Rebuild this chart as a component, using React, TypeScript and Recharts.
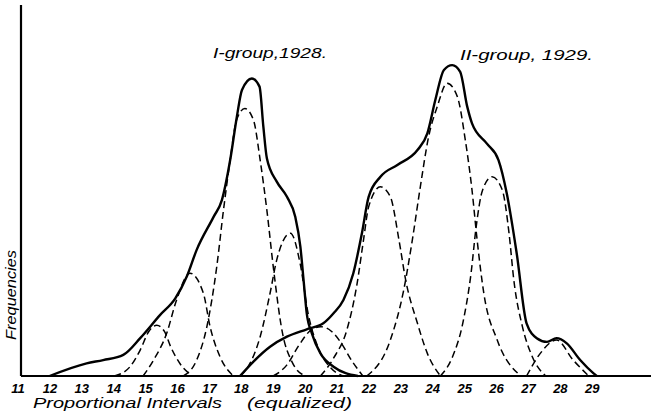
import { LineChart, Line, XAxis, YAxis } from "recharts";

// proportional intervals (equalized) shown under the axis
const intervalTicks = [11, 12, 13, 14, 15, 16, 17, 18, 19, 20, 21, 22, 23, 24, 25, 26, 27, 28, 29];

// solid outline curves, x = interval, y = frequency (arbitrary units, axis top = 100)
const groupOne1928 = [
  { x: 11.99, y: 0 }, { x: 13.15, y: 3.4 }, { x: 13.67, y: 4.3 }, { x: 14.3, y: 5.7 },
  { x: 14.83, y: 10.2 }, { x: 15.45, y: 16.4 }, { x: 15.93, y: 20.9 }, { x: 16.29, y: 26.8 },
  { x: 16.6, y: 34 }, { x: 17.13, y: 42.9 }, { x: 17.39, y: 47.4 }, { x: 17.65, y: 58.2 },
  { x: 17.86, y: 69.9 }, { x: 18.02, y: 77.1 }, { x: 18.33, y: 80.2 }, { x: 18.57, y: 78 },
  { x: 18.69, y: 67.2 }, { x: 18.8, y: 58.7 }, { x: 19.11, y: 52.4 }, { x: 19.43, y: 48.3 },
  { x: 19.69, y: 42.9 }, { x: 19.85, y: 34.9 }, { x: 19.95, y: 25.9 }, { x: 20.05, y: 16.9 },
  { x: 20.21, y: 11.5 }, { x: 20.48, y: 6.1 }, { x: 20.89, y: 2.5 }, { x: 21.65, y: 0 },
];

const groupTwo1929 = [
  { x: 17.96, y: 0 }, { x: 18.38, y: 3.9 }, { x: 18.9, y: 7.9 }, { x: 19.43, y: 10.6 },
  { x: 20.05, y: 12.6 }, { x: 20.57, y: 14.2 }, { x: 20.89, y: 16.9 }, { x: 21.2, y: 20.5 },
  { x: 21.51, y: 27.7 }, { x: 21.78, y: 38.5 }, { x: 21.99, y: 48.3 }, { x: 22.36, y: 53.7 },
  { x: 22.89, y: 56.9 }, { x: 23.52, y: 60.9 }, { x: 23.83, y: 65.4 }, { x: 24.08, y: 74.4 },
  { x: 24.35, y: 82.5 }, { x: 24.61, y: 83.8 }, { x: 24.86, y: 82 }, { x: 25.08, y: 72.6 },
  { x: 25.23, y: 68.1 }, { x: 25.69, y: 62.7 }, { x: 26.06, y: 58.2 }, { x: 26.32, y: 49.2 },
  { x: 26.63, y: 33.1 }, { x: 26.94, y: 14.2 }, { x: 27.26, y: 10.2 }, { x: 27.58, y: 9.2 },
  { x: 27.88, y: 10.2 }, { x: 28.2, y: 8.8 }, { x: 28.62, y: 4.3 }, { x: 29.04, y: 0.7 },
  { x: 29.14, y: 0 },
];

// dashed component curves, group I
const partA = [
  { x: 14.02, y: 0 }, { x: 14.51, y: 2.5 }, { x: 14.83, y: 7 }, { x: 15.1, y: 12 },
  { x: 15.35, y: 13.7 }, { x: 15.59, y: 12 }, { x: 15.79, y: 7.8 }, { x: 16.08, y: 3.3 },
  { x: 16.47, y: 0 },
];
const partB = [
  { x: 14.92, y: 0 }, { x: 15.25, y: 4.3 }, { x: 15.66, y: 11.5 }, { x: 15.97, y: 20.5 },
  { x: 16.39, y: 27.7 }, { x: 16.81, y: 22.3 }, { x: 17.02, y: 13.3 }, { x: 17.33, y: 5.2 },
  { x: 17.75, y: 0 },
];
const partC = [
  { x: 16.18, y: 0 }, { x: 16.6, y: 4.3 }, { x: 16.92, y: 13.3 }, { x: 17.23, y: 29.5 },
  { x: 17.44, y: 44.7 }, { x: 17.65, y: 58.2 }, { x: 17.85, y: 69 }, { x: 18.11, y: 72.1 },
  { x: 18.38, y: 69 }, { x: 18.59, y: 58.2 }, { x: 18.8, y: 44.7 }, { x: 19.0, y: 29.5 },
  { x: 19.28, y: 12 }, { x: 19.6, y: 3.6 }, { x: 20.0, y: 0 },
];
const partD = [
  { x: 17.96, y: 0 }, { x: 18.27, y: 3.4 }, { x: 18.59, y: 10.6 }, { x: 18.9, y: 22.3 },
  { x: 19.11, y: 31.3 }, { x: 19.54, y: 38.5 }, { x: 19.85, y: 30 }, { x: 20.09, y: 17 },
  { x: 20.39, y: 8 }, { x: 20.8, y: 2.2 }, { x: 21.2, y: 0 },
];

// dashed component curves, group II
const partE = [
  { x: 19.0, y: 0 }, { x: 19.43, y: 3 }, { x: 19.82, y: 8.5 }, { x: 20.2, y: 12.5 },
  { x: 20.49, y: 13.3 }, { x: 20.83, y: 12 }, { x: 21.12, y: 9 }, { x: 21.47, y: 4 },
  { x: 21.81, y: 0 },
];
const partF = [
  { x: 20.48, y: 0 }, { x: 20.89, y: 4.8 }, { x: 21.31, y: 12.5 }, { x: 21.62, y: 24.5 },
  { x: 21.83, y: 36.7 }, { x: 21.99, y: 45.6 }, { x: 22.36, y: 51 }, { x: 22.67, y: 48.3 },
  { x: 22.94, y: 36.7 }, { x: 23.15, y: 25.9 }, { x: 23.52, y: 14.2 }, { x: 23.83, y: 6.1 },
  { x: 24.24, y: 0 },
];
const partG = [
  { x: 21.93, y: 0 }, { x: 22.67, y: 9.7 }, { x: 23.09, y: 23.2 }, { x: 23.36, y: 36.7 },
  { x: 23.61, y: 51 }, { x: 23.87, y: 64.5 }, { x: 24.14, y: 72.6 }, { x: 24.45, y: 78.9 },
  { x: 24.77, y: 75.3 }, { x: 25.02, y: 63.6 }, { x: 25.23, y: 50.1 }, { x: 25.39, y: 36.7 },
  { x: 25.6, y: 22.3 }, { x: 26.02, y: 9.7 }, { x: 26.76, y: 0 },
];
const partH = [
  { x: 24.24, y: 0 }, { x: 24.62, y: 5.2 }, { x: 24.94, y: 14.2 }, { x: 25.2, y: 27.7 },
  { x: 25.36, y: 40.2 }, { x: 25.56, y: 50.1 }, { x: 25.86, y: 53.7 }, { x: 26.18, y: 50.1 },
  { x: 26.39, y: 38.5 }, { x: 26.54, y: 25.9 }, { x: 26.81, y: 13.3 }, { x: 27.12, y: 5.2 },
  { x: 27.54, y: 0 },
];
const partI = [
  { x: 26.94, y: 0 }, { x: 27.37, y: 6.1 }, { x: 27.88, y: 9.7 }, { x: 28.4, y: 4.3 },
  { x: 28.89, y: 0 },
];

const components = [partA, partB, partC, partD, partE, partF, partG, partH, partI];

const INK = "#000";
const FONT = "Liberation Sans, Arial, sans-serif";

const IntervalTick = (props: any) => {
  const { x, y, payload } = props;
  return (
    <text x={x} y={y + 17} textAnchor="middle" fontSize={13} fontWeight="bold" fontStyle="italic" fontFamily={FONT} fill={INK}>
      {payload.value}
    </text>
  );
};

export default function App() {
  return (
    <div style={{ position: "absolute", left: 0, top: 0, width: 651, height: 416, background: "#fff" }}>
      <LineChart width={651} height={416} margin={{ top: 5, right: 0, bottom: 0, left: 0 }}>
        <XAxis
          dataKey="x"
          type="number"
          domain={[11.094, 30.84]}
          allowDataOverflow
          ticks={intervalTicks}
          interval={0}
          height={40}
          tickSize={0}
          tickMargin={0}
          tickLine={false}
          axisLine={{ stroke: INK, strokeWidth: 2.2 }}
          tick={<IntervalTick />}
        />
        <YAxis
          type="number"
          domain={[0, 100]}
          width={21}
          tick={false}
          tickLine={false}
          axisLine={{ stroke: INK, strokeWidth: 2.2 }}
        />
        {components.map((part, i) => (
          <Line
            key={`part-${i}`}
            data={part}
            dataKey="y"
            type="monotone"
            stroke={INK}
            strokeWidth={1.5}
            strokeDasharray="7 4"
            dot={false}
            activeDot={false}
            isAnimationActive={false}
          />
        ))}
        <Line data={groupOne1928} dataKey="y" type="monotone" stroke={INK} strokeWidth={2.4} dot={false} activeDot={false} isAnimationActive={false} />
        <Line data={groupTwo1929} dataKey="y" type="monotone" stroke={INK} strokeWidth={2.4} dot={false} activeDot={false} isAnimationActive={false} />

        <text x={213} y={58} fontSize={15} fontStyle="italic" fontFamily={FONT} fill={INK} textLength={114} lengthAdjust="spacingAndGlyphs">
          I-group,1928.
        </text>
        <text x={460} y={60} fontSize={15} fontStyle="italic" fontFamily={FONT} fill={INK} textLength={133} lengthAdjust="spacingAndGlyphs">
          II-group, 1929.
        </text>
        <text x={33} y={408} fontSize={14} fontStyle="italic" fontFamily={FONT} fill={INK} textLength={189} lengthAdjust="spacingAndGlyphs">
          Proportional Intervals
        </text>
        <text x={247} y={408} fontSize={14} fontStyle="italic" fontFamily={FONT} fill={INK} textLength={105} lengthAdjust="spacingAndGlyphs">
          (equalized)
        </text>
        <text
          x={0}
          y={0}
          transform="translate(16, 340) rotate(-90)"
          fontSize={14}
          fontStyle="italic"
          fontFamily={FONT}
          fill={INK}
          textLength={90}
          lengthAdjust="spacingAndGlyphs"
        >
          Frequencies
        </text>
      </LineChart>
    </div>
  );
}
